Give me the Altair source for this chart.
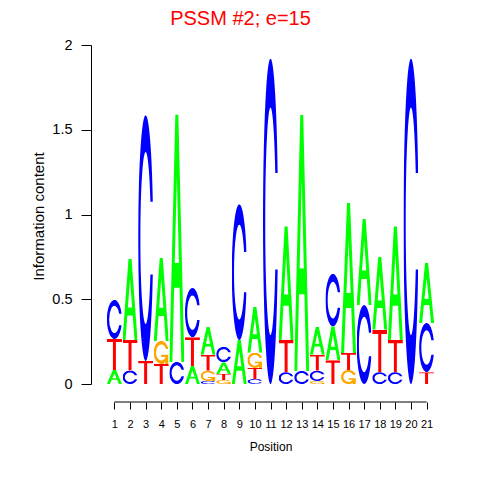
import altair as alt
import pandas as pd
from urllib.parse import quote

# ---- data (bits per letter, per position) ----
positions = list(range(1, 22))
A_bits = [0.083, 0.48, 0.0, 0.49, 1.46, 0.106, 0.165, 0.07, 0.26, 0.27, 0.0,
          0.67, 1.51, 0.165, 0.20, 0.885, 0.51, 0.43, 0.67, 0.0, 0.355]
C_bits = [0.23, 0.08, 1.45, 0.0, 0.13, 0.29, 0.018, 0.09, 0.80, 0.03, 1.92,
          0.07, 0.077, 0.06, 0.31, 0.0, 0.466, 0.07, 0.07, 1.92, 0.29]
G_bits = [0.0, 0.0, 0.0, 0.136, 0.0, 0.0, 0.06, 0.024, 0.0, 0.09, 0.0,
          0.0, 0.0, 0.018, 0.0, 0.083, 0.0, 0.0, 0.0, 0.0, 0.0]
T_bits = [0.183, 0.18, 0.136, 0.118, 0.0, 0.17, 0.094, 0.035, 0.0, 0.065, 0.0,
          0.19, 0.0, 0.094, 0.14, 0.10, 0.0, 0.25, 0.19, 0.0, 0.07]
y_ticks = [0, 0.5, 1, 1.5, 2]
title_text = "PSSM #2; e=15"

# ---- letter glyphs (seqLogo style), stretched to fill their box ----
letter_colors = {"A": "#00FF00", "C": "#0000FF", "G": "#FFA500", "T": "#FF0000"}
C_ring = "M97.8,64.8 A50,50 0 1 1 97.8,35.2 L81.7,35.2 A35,35 0 1 0 81.7,64.8 Z"
glyph_paths = {
    "A": ("M0,100 L40,0 L60,0 L100,100 L80,100 L68,70 L32,70 L20,100 Z "
          "M36,60 L50,25 L64,60 Z", "evenodd"),
    "C": (C_ring, "nonzero"),
    "G": (C_ring + " M97.8,60 L97.8,100 L77.8,100 L77.8,70 L50,70 L50,60 Z", "nonzero"),
    "T": ("M0,0 L100,0 L100,10 L60,10 L60,100 L40,100 L40,10 L0,10 Z", "nonzero"),
}


def glyph_url(letter):
    d, rule = glyph_paths[letter]
    svg = ("<svg xmlns='http://www.w3.org/2000/svg' width='100' height='100' "
           "viewBox='0 0 100 100' preserveAspectRatio='none'>"
           f"<path d='{d}' fill='{letter_colors[letter]}' fill-rule='{rule}'/></svg>")
    return "data:image/svg+xml;charset=utf-8," + quote(svg)


urls = {k: glyph_url(k) for k in letter_colors}

rows = []
for i, p in enumerate(positions):
    stack = [("A", A_bits[i]), ("C", C_bits[i]), ("G", G_bits[i]), ("T", T_bits[i])]
    stack = sorted([s for s in stack if s[1] > 0], key=lambda s: s[1])
    base = 0.0
    for letter, h in stack:
        rows.append({"pos": p, "letter": letter, "y_lo": base, "y_hi": base + h,
                     "url": urls[letter]})
        base += h
df = pd.DataFrame(rows)

FONT = "Liberation Sans"

x_axis = alt.Axis(values=positions, format="d", title="Position",
                  offset=18, domain=False, grid=False, tickSize=7,
                  tickColor="black", labelColor="black", labelFontSize=11,
                  labelPadding=9, labelFont=FONT, labelOverlap=False,
                  labelFlush=False, titleFont=FONT, titleFontSize=12,
                  titleFontWeight="normal", titleColor="black",
                  titleY=48, titleBaseline="alphabetic")
x_scale = alt.Scale(domain=[-0.5, 22.5], nice=False, zero=False)

letters = alt.Chart(df).transform_calculate(
    x_lo="datum.pos - 0.48", x_hi="datum.pos + 0.48"
).mark_image(aspect=False).encode(
    x=alt.X("x_lo:Q", scale=x_scale, axis=x_axis),
    x2="x_hi:Q",
    y=alt.Y("y_lo:Q",
            scale=alt.Scale(domain=[0, 2], nice=False, zero=True),
            axis=alt.Axis(values=y_ticks, format="~g", title="Information content",
                          grid=False, domainColor="black", tickColor="black",
                          tickSize=10, labelColor="black", labelFontSize=14.5,
                          labelPadding=9, labelFont=FONT, labelFlush=False,
                          titleFont=FONT, titleFontSize=15, titleFontWeight="normal",
                          titleColor="black", titleAngle=270, titleX=-48, titleY=171,
                          titleAlign="center", titleBaseline="alphabetic")),
    y2="y_hi:Q",
    url="url:N",
)

axis_line = alt.Chart(
    pd.DataFrame({"start": [positions[0]], "end": [positions[-1]]})
).mark_rule(color="black", strokeWidth=1).encode(
    x=alt.X("start:Q", scale=x_scale, axis=x_axis), x2="end:Q", y=alt.value(357)
)

chart = alt.layer(letters, axis_line).properties(
    width=359, height=339,
    autosize=alt.AutoSizeParams(type="none"),
    padding={"left": 83, "top": 37, "right": 22, "bottom": 80},
    title=alt.TitleParams(title_text, color="#FF0000", fontSize=20,
                          fontWeight="normal", font=FONT, anchor="middle",
                          frame="group", dx=-30, dy=9, offset=1, baseline="alphabetic"),
).configure_view(stroke=None)

chart.save("out.html", embed_options={"renderer": "svg", "actions": False})
